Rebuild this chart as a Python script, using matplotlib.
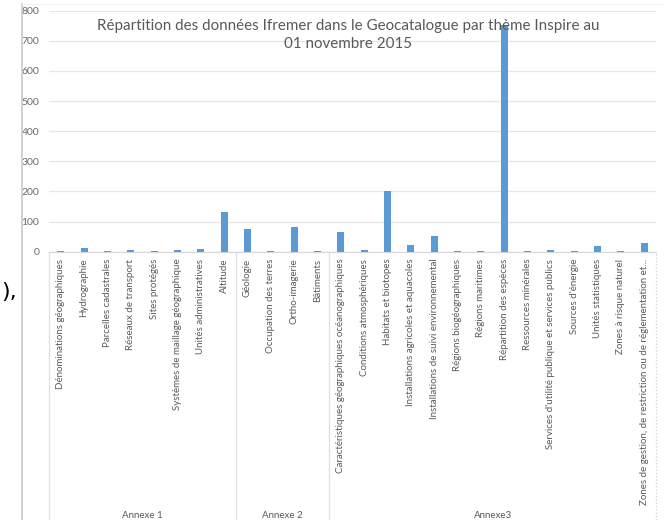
import matplotlib
matplotlib.use("Agg")
import matplotlib.pyplot as plt
import matplotlib.transforms as mtransforms
import numpy as np

# Themes Inspire, grouped by annex
annexe1 = ["Dénominations géographiques", "Hydrographie", "Parcelles cadastrales",
           "Réseaux de transport", "Sites protégés", "Systèmes de maillage géographique",
           "Unités administratives", "Altitude"]
annexe2 = ["Géologie", "Occupation des terres", "Ortho-imagerie", "Bâtiments"]
annexe3 = ["Caractéristiques géographiques océanographiques", "Conditions atmosphériques",
           "Habitats et biotopes", "Installations agricoles et aquacoles",
           "Installations de suivi environnemental", "Régions biogéographiques",
           "Régions maritimes", "Répartition des espèces", "Ressources minérales",
           "Services d'utilité publique et services publics", "Sources d'énergie",
           "Unités statistiques", "Zones à risque naturel",
           "Zones de gestion, de restriction ou de réglementation et..."]

values1 = [2, 11, 2, 6, 2, 6, 10, 132]
values2 = [77, 2, 82, 2]
values3 = [66, 5, 201, 22, 52, 1, 1, 752, 1, 6, 1, 20, 1, 28]

group_names = ["Annexe 1", "Annexe 2", "Annexe3"]
y_ticks = [0, 100, 200, 300, 400, 500, 600, 700, 800]

title = "Répartition des données Ifremer dans le Geocatalogue par thème Inspire au\n01 novembre 2015"

labels = annexe1 + annexe2 + annexe3
values = values1 + values2 + values3
groups = [annexe1, annexe2, annexe3]

grey_text = "#595959"
font = "Lato"

fig = plt.figure(figsize=(6.64, 5.2), dpi=100)
ax = fig.add_axes([49 / 664, 1 - 251.7 / 520, 607 / 664, 241 / 520])

x = np.arange(len(labels))
ax.bar(x, values, width=0.3, color="#5B9BD5", zorder=3)

ax.set_xlim(-0.5, len(labels) - 0.5)
ax.set_ylim(0, 800)
ax.set_yticks(y_ticks)
ax.set_yticklabels([str(v) for v in y_ticks], fontsize=7.5, color="#6a6a6a", family=font)
ax.tick_params(axis="y", length=0, pad=7)
ax.set_xticks(x)
ax.set_xticklabels(labels, rotation=90, fontsize=7, color=grey_text, family=font,
                   va="top", ha="center")
ax.tick_params(axis="x", length=0, pad=5)

ax.grid(axis="y", color="#e6e6e6", linewidth=0.9, zorder=0)
for side in ["top", "right", "left"]:
    ax.spines[side].set_visible(False)
ax.spines["bottom"].set_color("#d9d9d9")
ax.spines["bottom"].set_linewidth(0.9)

# group separators below the axis, down to the bottom of the figure
trans = mtransforms.blended_transform_factory(ax.transData, fig.transFigure)
bottom_ax = 1 - 251.7 / 520
start = 0
for i, g in enumerate(groups):
    ax.plot([start - 0.5, start - 0.5], [0, bottom_ax], transform=trans,
            color="#e0e0e0", linewidth=0.9, clip_on=False)
    center = start + (len(g) - 1) / 2
    ax.text(center, 1 - 515 / 520, group_names[i], transform=trans,
            ha="center", va="center", fontsize=7, color=grey_text, family=font)
    start += len(g)
ax.plot([start - 0.5, start - 0.5], [0, bottom_ax], transform=trans,
        color="#d0d0d0", linewidth=0.9, linestyle=":", clip_on=False)

# chart border on the left and faint top edge
fig.add_artist(plt.Line2D([21.5 / 664, 21.5 / 664], [0, 1 - 4 / 520],
                          color="#c8c8c8", linewidth=1.2))
fig.add_artist(plt.Line2D([21.5 / 664, 1], [1 - 4 / 520, 1 - 4 / 520],
                          color="#f0f0f0", linewidth=0.8))

fig.text(348 / 664, 1 - 35 / 520, title, ha="center", va="center",
         fontsize=10.9, color=grey_text, family=font, linespacing=1.3)

# bit of surrounding document text at the left edge
fig.text(1 / 664, 1 - 292 / 520, "),", fontsize=16, color="black",
         va="center", ha="left", family="DejaVu Sans")

fig.savefig("out.png", dpi=100)
